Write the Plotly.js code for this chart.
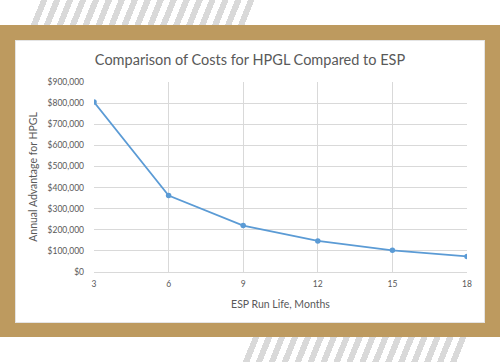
<!DOCTYPE html>
<html>
<head>
<meta charset="utf-8">
<script src="https://cdn.plot.ly/plotly-3.0.1.min.js"></script>
<style>
  html, body { margin: 0; padding: 0; background: #ffffff; }
  #wrap { position: relative; width: 500px; height: 362px; overflow: hidden; background: #ffffff; }
  .stripes { position: absolute; background: repeating-linear-gradient(112deg, #d9d9d9 0px, #d9d9d9 6px, rgba(255,255,255,0) 6px, rgba(255,255,255,0) 12px); }
  #stripeTop { left: 28px; top: 0px; width: 230px; height: 25px; clip-path: polygon(10px 0, 230px 0, 218px 25px, 0 25px); }
  #stripeBot { left: 240px; top: 337px; width: 232px; height: 25px; clip-path: polygon(12px 0, 230px 0, 218px 25px, 0 25px); }
  #frame { position: absolute; left: 0; top: 25px; width: 500px; height: 312px; background: #bd9a5f; }
  #inner { position: absolute; left: 15px; top: 40px; width: 468px; height: 281px; background: #ffffff; border: 1px solid #e4e4e4; }
  #chart { position: absolute; left: 0; top: 0; width: 500px; height: 362px; }
</style>
</head>
<body>
<div id="wrap">
  <div id="stripeTop" class="stripes"></div>
  <div id="stripeBot" class="stripes"></div>
  <div id="frame"></div>
  <div id="inner"></div>
  <div id="chart"></div>
</div>
<script>
const runLifeMonths = [3, 6, 9, 12, 15, 18];
const annualAdvantage = [805000, 362000, 220000, 147000, 103000, 74000];
const yTickVals = [0, 100000, 200000, 300000, 400000, 500000, 600000, 700000, 800000, 900000];
const yTickText = ['$0', '$100,000', '$200,000', '$300,000', '$400,000', '$500,000', '$600,000', '$700,000', '$800,000', '$900,000'];
const xTickVals = [3, 6, 9, 12, 15, 18];

const font = 'Lato, "Open Sans", sans-serif';
const grey = '#595959';

const trace = {
  x: runLifeMonths,
  y: annualAdvantage,
  type: 'scatter',
  mode: 'lines+markers',
  line: { color: '#5b9bd5', width: 1.75 },
  marker: { color: '#5b9bd5', size: 5.5 },
  hoverinfo: 'skip',
  showlegend: false
};

const layout = {
  width: 500,
  height: 362,
  paper_bgcolor: 'rgba(0,0,0,0)',
  plot_bgcolor: 'rgba(0,0,0,0)',
  margin: { l: 94, r: 33, t: 82, b: 90, pad: 0 },
  title: {
    text: 'Comparison of Costs for HPGL Compared to ESP',
    font: { family: font, size: 14.5, color: grey },
    x: 0.5, xref: 'container', xanchor: 'center',
    y: 1 - 60 / 362, yref: 'container', yanchor: 'middle'
  },
  xaxis: {
    range: [3, 18],
    tickvals: xTickVals,
    ticktext: xTickVals.map(String),
    showgrid: true,
    gridcolor: '#d9d9d9',
    gridwidth: 1,
    zeroline: false,
    showline: true,
    linecolor: '#d9d9d9',
    ticks: '',
    ticklabelstandoff: 4,
    tickfont: { family: font, size: 8.5, color: grey },
    title: { text: 'ESP Run Life, Months', font: { family: font, size: 10.5, color: grey }, standoff: 12 },
    fixedrange: true
  },
  yaxis: {
    range: [0, 900000],
    tickvals: yTickVals,
    ticktext: yTickText,
    showgrid: true,
    gridcolor: '#d9d9d9',
    gridwidth: 1,
    zeroline: false,
    showline: false,
    ticks: '',
    ticklabelstandoff: 9,
    tickfont: { family: font, size: 8.5, color: grey },
    title: { text: 'Annual Advantage for HPGL', font: { family: font, size: 10.5, color: grey }, standoff: 7 },
    fixedrange: true
  }
};

Plotly.newPlot('chart', [trace], layout, { displayModeBar: false, staticPlot: true });
</script>
</body>
</html>
